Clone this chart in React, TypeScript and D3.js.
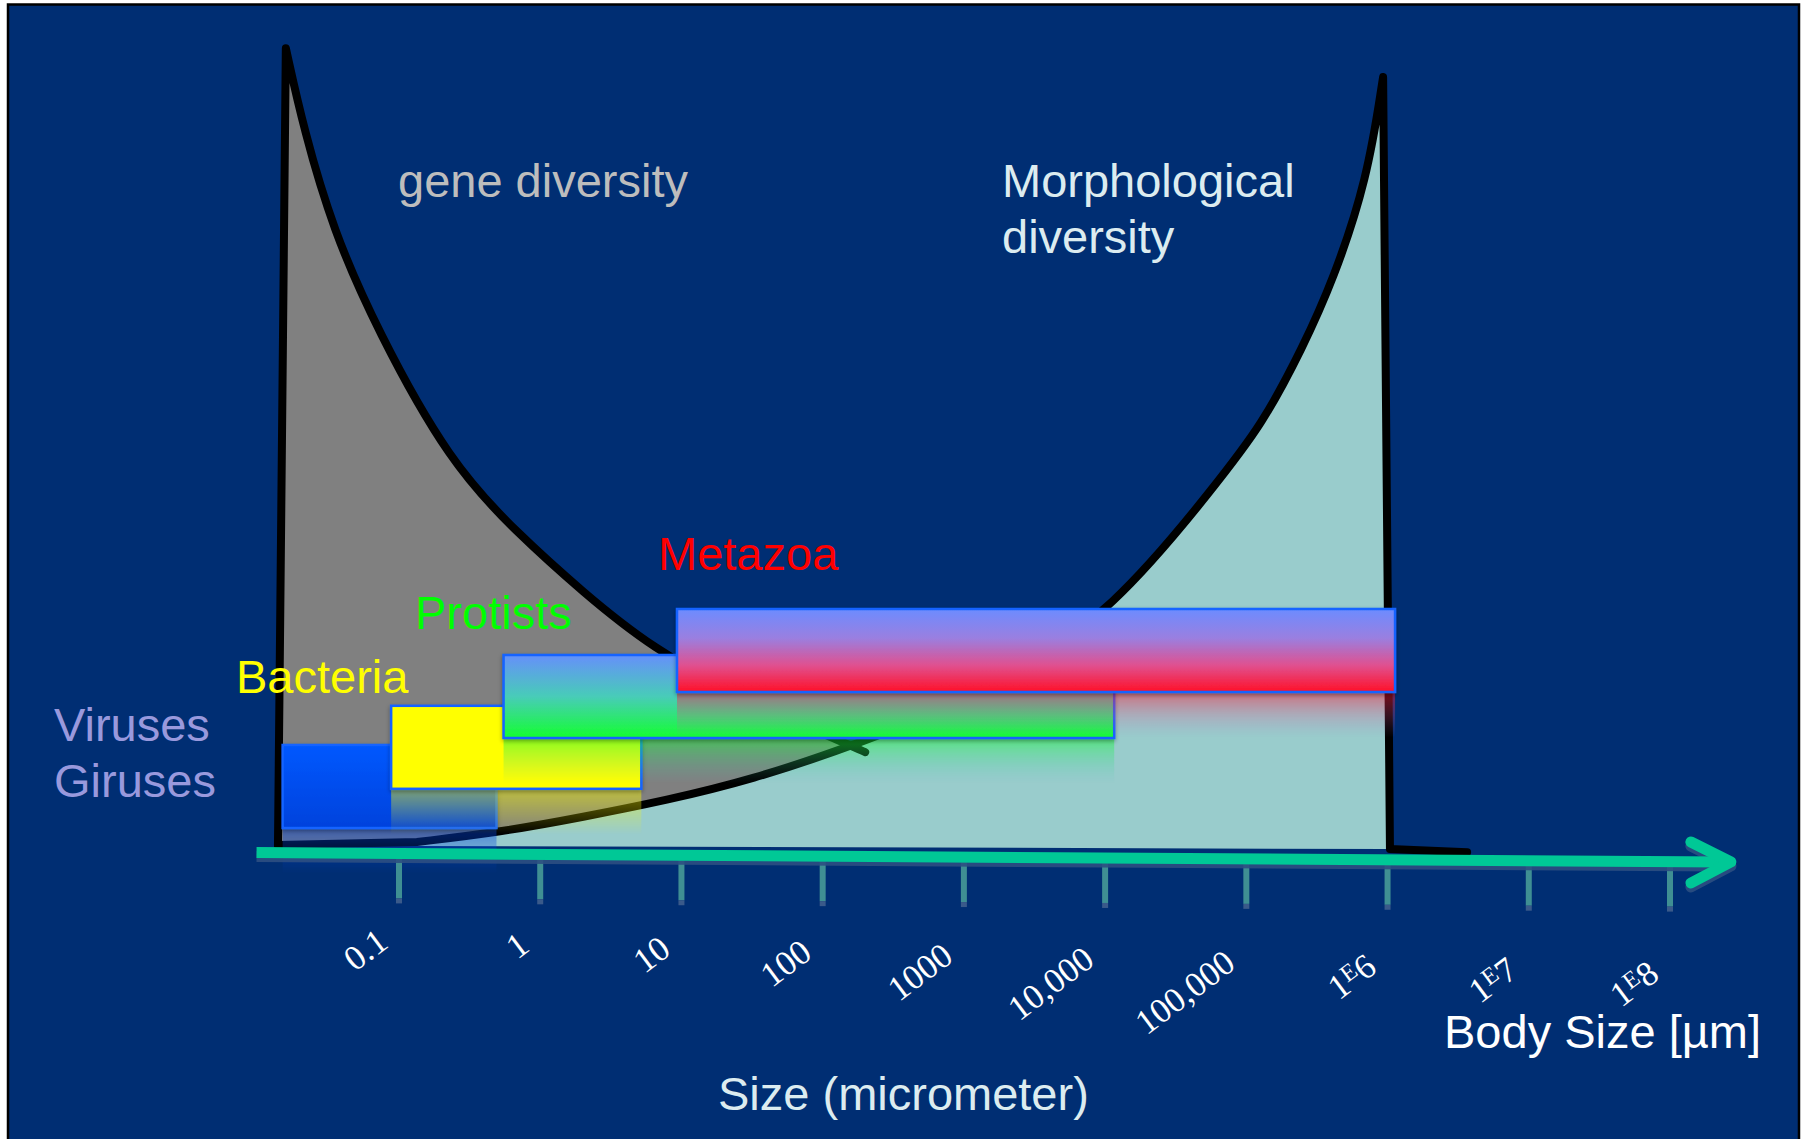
import React from "react";
import * as d3 from "d3";

const W = 1802;
const H = 1139;

// size axis (micrometer, log scale)
const tickValues = [0.1, 1, 10, 100, 1000, 1e4, 1e5, 1e6, 1e7, 1e8];
const tickLabels = ["0.1", "1", "10", "100", "1000", "10,000", "100,000", "1E6", "1E7", "1E8"];
const axisFrom = 0.0098;
const axisTo = 2.7e8;

// gene diversity curve: size (µm) vs relative diversity
const footSize = 0.0139;
const geneSize = [0.0158, 0.0212, 0.0341, 0.0698, 0.23, 0.686, 2.01, 6.0, 30.6, 156, 200];
const geneValue = [99.6, 89.4, 76.9, 64.4, 47.75, 39, 31.6, 24.75, 17.75, 12.5, 11.6];

// morphological diversity curve
const morphSize = [0.134, 0.519, 2.01, 7.9, 30.6, 173, 1700, 1.18e4, 6.2e4, 1.29e5, 2.52e5, 4.12e5, 7.18e5, 9.3e5];
const morphValue = [0.375, 1.6, 3.5, 5.6, 8.1, 12.5, 19.5, 29.5, 45.25, 52.5, 62.25, 70.6, 83.1, 96];
const morphFootSize = 1.04e6;
const morphFootValue = -0.5;
const morphTailSize = 3.66e6;
const morphTailValue = -0.9;

// organism size ranges (bars)
const groupMin = [0.015, 0.088, 0.55, 9.3];
const groupMax = [0.49, 5.2, 11600, 1.13e6];
const groupLevel = [12.5, 17.4, 23.75, 29.5];
const barThickness = 10.375;
const groupStops: [number, string][][] = [
  [[0, "#0058ff"], [1, "#0042dc"]],
  [[0, "#ffff00"], [1, "#ffff00"]],
  [[0, "#6690fa"], [0.5, "#48ccb8"], [1, "#14ff30"]],
  [[0, "#6c8cff"], [0.35, "#9a7fe0"], [0.68, "#e0508f"], [1, "#ff1028"]],
];

const SANS = "'Liberation Sans', Arial, Helvetica, sans-serif";
const SERIF = "'Liberation Serif', 'Times New Roman', serif";

export default function App() {
  const x = d3.scaleLog().domain([0.1, 1e8]).range([399, 1670]);
  const y = d3.scaleLinear().domain([0, 100]).range([845, 45]);
  const axisY = d3.scaleLinear().domain([256, 1731]).range([852.5, 862]);
  const labelY = d3.scaleLinear().domain([399, 1670]).range([946, 978]);

  const smooth = d3.line<[number, number]>().curve(d3.curveBasis);

  const foot: [number, number] = [x(footSize), y(0)];
  const genePts: [number, number][] = geneSize.map((s, i) => [x(s), y(geneValue[i])]);
  const geneCurve = smooth(genePts) as string;
  const geneStroke = `M${foot[0]},${foot[1]}` + geneCurve.replace(/^M/, "L");
  const lastGene = genePts[genePts.length - 1];
  const geneFill = geneStroke + `L${lastGene[0]},${y(0)}L${foot[0]},${foot[1]}Z`;

  const morphPts: [number, number][] = morphSize.map((s, i) => [x(s), y(morphValue[i])]);
  const morphCurve = smooth(morphPts) as string;
  const rf: [number, number] = [x(morphFootSize), y(morphFootValue)];
  const tail: [number, number] = [x(morphTailSize), y(morphTailValue)];
  const morphStroke =
    `M${foot[0]},${foot[1]}` + morphCurve.replace(/^M/, "L") + `L${rf[0]},${rf[1]}L${tail[0]},${tail[1]}`;
  const morphFill = morphCurve + `L${rf[0]},${rf[1]}L${morphPts[0][0]},${y(0) + 1}Z`;

  const ax0 = x(axisFrom);
  const ax1 = x(axisTo);
  const tipY = axisY(ax1);

  const bars = groupMin.map((lo, i) => {
    const x0 = x(lo);
    const x1 = x(groupMax[i]);
    const y0 = y(groupLevel[i]);
    const y1 = y(groupLevel[i] - barThickness);
    return { i, x0, x1, y0, y1, w: x1 - x0, h: y1 - y0 };
  });

  return (
    <svg
      width={W}
      height={H}
      viewBox={`0 0 ${W} ${H}`}
      style={{ position: "absolute", left: 0, top: 0, display: "block" }}
    >
      <defs>
        {groupStops.map((stops, i) => (
          <linearGradient key={i} id={`bar${i}`} x1="0" y1="0" x2="0" y2="1">
            {stops.map(([o, c], k) => (
              <stop key={k} offset={o} stopColor={c} />
            ))}
          </linearGradient>
        ))}
        <linearGradient id="fade" x1="0" y1="0" x2="0" y2="1">
          <stop offset="0" stopColor="#fff" stopOpacity={0.5} />
          <stop offset="1" stopColor="#fff" stopOpacity={0} />
        </linearGradient>
        {bars.map((b) => (
          <mask key={b.i} id={`mask${b.i}`} maskUnits="userSpaceOnUse" x={b.x0 - 5} y={b.y1} width={b.w + 10} height={b.h}>
            <rect x={b.x0 - 5} y={b.y1} width={b.w + 10} height={b.h * 0.55} fill="url(#fade)" />
          </mask>
        ))}
        <filter id="shadow" x="-5%" y="-20%" width="110%" height="160%">
          <feDropShadow dx="0" dy="2" stdDeviation="2" floodColor="#000" floodOpacity="0.35" />
        </filter>
      </defs>

      <rect x={0} y={0} width={W} height={H} fill="#ffffff" />
      <rect x={8} y={4.5} width={1791} height={H + 10} fill="#002e73" stroke="#000" strokeWidth={2.5} />

      {/* diversity areas */}
      <path d={geneFill} fill="#808080" />
      <path d={morphFill} fill="#99cccc" />
      <path d={geneStroke} fill="none" stroke="#000" strokeWidth={8} strokeLinejoin="round" strokeLinecap="round" />
      <path d={morphStroke} fill="none" stroke="#000" strokeWidth={8} strokeLinejoin="round" strokeLinecap="round" />

      {/* size range bars with reflections */}
      {bars.map((b) => (
        <g key={b.i}>
          <g mask={`url(#mask${b.i})`}>
            <rect
              x={b.x0}
              y={b.y0}
              width={b.w}
              height={b.h}
              fill={`url(#bar${b.i})`}
              transform={`translate(0 ${2 * b.y1}) scale(1 -1)`}
            />
          </g>
          <rect
            x={b.x0}
            y={b.y0}
            width={b.w}
            height={b.h}
            fill={`url(#bar${b.i})`}
            stroke="#1464ff"
            strokeWidth={2.5}
            filter="url(#shadow)"
          />
        </g>
      ))}

      {/* ticks */}
      {tickValues.map((v, i) => {
        const tx = x(v);
        const ty = axisY(tx);
        return (
          <g key={i}>
            <line x1={tx} y1={ty} x2={tx} y2={ty + 45} stroke="#3f8f93" strokeWidth={6} />
            <line x1={tx} y1={ty + 45} x2={tx} y2={ty + 50} stroke="#3a5a8a" strokeWidth={6} />
          </g>
        );
      })}

      {/* axis arrow */}
      <g stroke="#2c4f82" strokeWidth={11} fill="none" strokeLinecap="round" strokeLinejoin="round" opacity={0.9}>
        <line x1={ax0} y1={axisY(ax0) + 4} x2={ax1 - 8} y2={tipY + 4} strokeLinecap="butt" />
        <polyline points={`${ax1 - 40},${tipY - 16} ${ax1},${tipY + 4} ${ax1 - 40},${tipY + 25}`} />
      </g>
      <g stroke="#00c896" strokeWidth={11} fill="none" strokeLinecap="round" strokeLinejoin="round">
        <line x1={ax0} y1={axisY(ax0)} x2={ax1 - 4} y2={tipY} strokeLinecap="butt" />
        <polyline points={`${ax1 - 40},${tipY - 20} ${ax1},${tipY} ${ax1 - 40},${tipY + 21}`} />
      </g>

      {/* tick labels */}
      {tickValues.map((v, i) => {
        const tx = x(v) - 9;
        const ty = labelY(x(v));
        const lab = tickLabels[i];
        const isExp = lab.includes("E");
        return (
          <text
            key={i}
            transform={`translate(${tx},${ty}) rotate(-37)`}
            textAnchor="end"
            fontFamily={SERIF}
            fontSize={35}
            fill="#ffffff"
          >
            {isExp ? (
              <>
                <tspan>{lab.split("E")[0]}</tspan>
                <tspan fontSize={24} dy={-9}>E</tspan>
                <tspan dy={9}>{lab.split("E")[1]}</tspan>
              </>
            ) : (
              lab
            )}
          </text>
        );
      })}

      {/* annotations */}
      <g fontFamily={SANS} fontSize={47}>
        <text x={398} y={197} fill="#bdbdbd">gene diversity</text>
        <text x={1002} y={197} fill="#dcecf0">Morphological</text>
        <text x={1002} y={253} fill="#dcecf0">diversity</text>
        <text x={658} y={570} fill="#ff0000">Metazoa</text>
        <text x={415} y={629} fill="#00ff00">Protists</text>
        <text x={236} y={693} fill="#ffff00">Bacteria</text>
        <text x={54} y={741} fill="#9999dd">Viruses</text>
        <text x={54} y={797} fill="#9999dd">Giruses</text>
        <text x={718} y={1110} fill="#dcecf0">Size (micrometer)</text>
        <text x={1444} y={1048} fill="#ffffff">Body Size [µm]</text>
      </g>
    </svg>
  );
}
